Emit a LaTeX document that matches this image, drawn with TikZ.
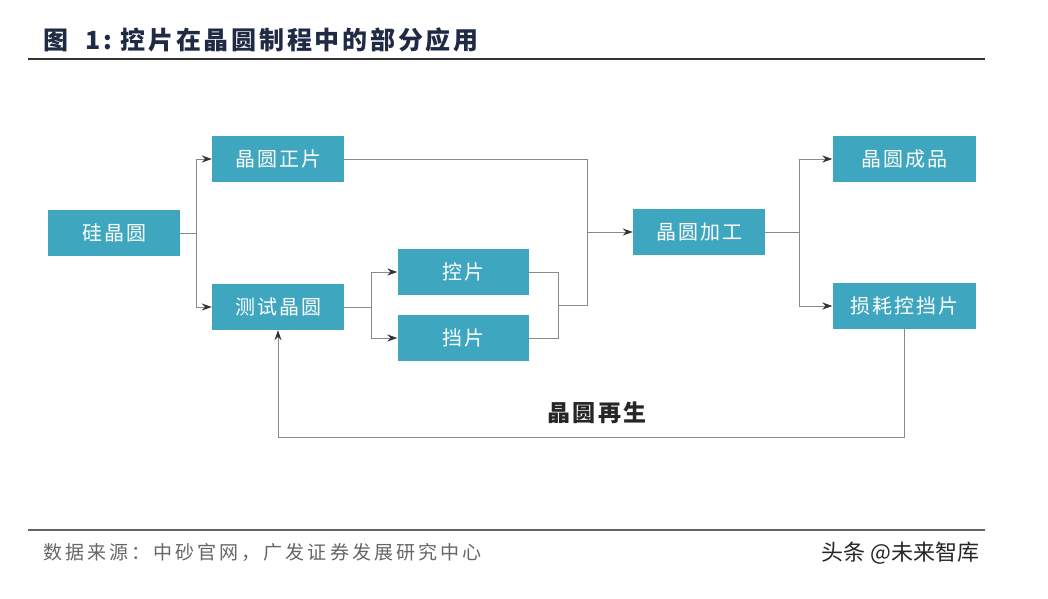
\documentclass[tikz,border=0pt]{standalone}
\usepackage{fontspec}
\setmainfont{Noto Sans CJK SC}
\newfontfamily\cjkspaced[LetterSpace=10]{Noto Sans CJK SC}
\newfontfamily\cjktitle[LetterSpace=11]{Noto Sans CJK SC}
\newfontfamily\cjkwide[LetterSpace=16]{Noto Sans CJK SC}
\definecolor{boxTeal}{HTML}{3FA6BF}
\definecolor{lineGray}{HTML}{8A8A8A}
\definecolor{tipDark}{HTML}{2E3440}
\definecolor{titleNavy}{HTML}{1F2A44}
\usetikzlibrary{arrows.meta, positioning, calc}

\begin{document}
\begin{tikzpicture}[x=1pt, y=1pt,
    stepbox/.style={fill=boxTeal, text=white, minimum width=132pt, minimum height=46pt,
                    inner sep=0pt, font=\cjkspaced\fontsize{20}{24}\selectfont},
    wire/.style={draw=lineGray, line width=1pt},
    feed/.style={wire, -{Stealth[length=10pt, width=7pt, color=tipDark, fill=tipDark]}}]
  \useasboundingbox (0,0) rectangle (1048,-598);
  \fill[white] (0,0) rectangle (1048,-598);

  % title and rules
  \node[anchor=west, text=titleNavy, font=\cjktitle\bfseries\fontsize{25}{29}\selectfont] (title) at (40,-40)
    {图\ \ 1:\ 控片在晶圆制程中的部分应用};
  \draw[line width=1.3pt, black!80] (28,-59) -- (985,-59);
  \draw[line width=1.3pt, black!60] (28,-530) -- (985,-530);

  % boxes
  \node[stepbox] (silicon) at (114,-233) {硅晶圆};
  \node[stepbox] (prime)   at (278,-159) {晶圆正片};
  \node[stepbox] (testw)   at (278,-307) {测试晶圆};
  \node[stepbox, minimum width=131pt] (ctrl)  at (463,-272) {控片};
  \node[stepbox, minimum width=131pt] (dummy) at (463,-338) {挡片};
  \node[stepbox] (process) at (699,-232) {晶圆加工};
  \node[stepbox, minimum width=143pt] (product) at (904,-159) {晶圆成品};
  \node[stepbox, minimum width=143pt] (worn)    at (904,-306) {损耗控挡片};

  % connectors
  \draw[wire] (silicon.east) -- ++(16,0) coordinate (split1);
  \draw[feed] (split1) |- (prime.west);
  \draw[feed] (split1) |- (testw.west);

  \draw[wire] (testw.east) -- ++(27,0) coordinate (split2);
  \draw[feed] (split2) |- (ctrl.west);
  \draw[feed] (split2) |- (dummy.west);

  \coordinate (join) at ($(ctrl.east)!0.5!(dummy.east)+(30,0)$);
  \draw[wire] (ctrl.east) -| (join) |- (dummy.east);
  \draw[wire] (join) -- ++(29,0) coordinate (bus);
  \draw[wire] (prime.east) -| (bus);
  \draw[feed] (bus |- process.west) -- (process.west);

  \draw[wire] (process.east) -- ++(34,0) coordinate (split3);
  \draw[feed] (split3) |- (product.west);
  \draw[feed] (split3) |- (worn.west);

  % regeneration loop
  \draw[feed] (worn.south) -- ++(0,-108) coordinate (loopcorner) -| (testw.south);
  \node[font=\cjkspaced\bfseries\fontsize{23}{27}\selectfont, text=black!85] (regen) at (597,-413) {晶圆再生};

  % footer
  \node[anchor=west, text=black!60, font=\cjkwide\fontsize{19}{23}\selectfont] (source) at (40,-552)
    {数据来源：中砂官网，广发证券发展研究中心};
  \node[anchor=west, text=black!85, font=\fontsize{22}{26}\selectfont] (mark) at (818,-553)
    {头条 @未来智库};
\end{tikzpicture}
\end{document}
